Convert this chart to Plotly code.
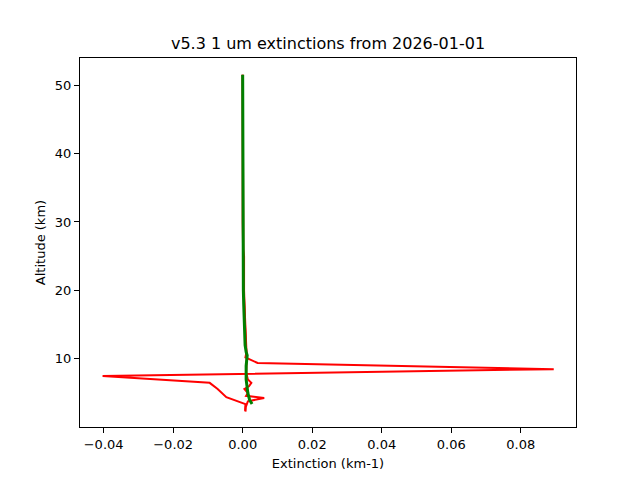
import plotly.graph_objects as go

# Profile A (red) with strong excursion near 8 km
alt_a = [51.5, 45.0, 40.0, 35.0, 30.0, 26.0, 25.0, 22.0, 20.0, 17.0, 15.0, 13.0, 12.0, 11.0, 10.2, 9.4, 8.5, 7.5, 6.5, 5.6, 4.4, 3.4, 2.4]
ext_a = [0.0, 0.0, 0.0, 0.0, 0.0, 0.0002, 0.0004, 0.0003, 0.0004, 0.0006, 0.0007, 0.0009, 0.0010, 0.0011, 0.0008, 0.0043, 0.0895, -0.0403, -0.0095, -0.0072, -0.0047, 0.0008, 0.0007]

# Profile B (red) with small wiggles in lower troposphere
alt_b = [51.5, 40.0, 30.0, 20.0, 15.0, 12.0, 10.0, 8.0, 7.0, 6.5, 6.0, 5.6, 5.0, 4.6, 4.3, 3.8, 3.0, 2.3]
ext_b = [0.0, 0.0, 0.0, 0.0003, 0.0006, 0.0009, 0.0012, 0.0010, 0.0015, 0.0025, 0.0018, 0.0005, 0.0015, 0.0010, 0.0062, 0.0015, 0.0009, 0.0008]

# Profile C (green)
alt_c = [51.5, 45.0, 40.0, 35.0, 30.0, 25.0, 20.0, 18.0, 15.0, 12.0, 11.0, 10.5, 9.0, 7.0, 5.0, 4.0, 3.4]
ext_c = [0.0, 0.0, 0.0, 0.0, 0.0, 0.0001, 0.0002, 0.0003, 0.0005, 0.0007, 0.0010, 0.0013, 0.0010, 0.0010, 0.0015, 0.0020, 0.0027]

fig = go.Figure()
fig.add_trace(go.Scatter(x=ext_a, y=alt_a, mode="lines", line=dict(color="#ff0000", width=2), showlegend=False))
fig.add_trace(go.Scatter(x=ext_b, y=alt_b, mode="lines", line=dict(color="#ff0000", width=2), showlegend=False))
fig.add_trace(go.Scatter(x=ext_c, y=alt_c, mode="lines", line=dict(color="#008000", width=3), showlegend=False))

axis_common = dict(
    showgrid=False, zeroline=False, showline=True, linecolor="black", linewidth=1,
    mirror=True, ticks="outside", ticklen=5, tickwidth=1, tickcolor="black",
    tickfont=dict(family="DejaVu Sans", size=13, color="black"),
)

fig.update_layout(
    width=640, height=480,
    paper_bgcolor="white", plot_bgcolor="white",
    margin=dict(l=72, r=72, t=50, b=61),
    title=dict(text="v5.3 1 um extinctions from 2026-01-01", x=0.5, xanchor="center",
               y=1 - 35 / 480, yanchor="middle",
               font=dict(family="DejaVu Sans", size=16, color="black")),
    font=dict(family="DejaVu Sans", color="black"),
    xaxis=dict(axis_common, range=[-0.0468, 0.0959], dtick=0.02, tick0=0, tickformat=".2f",
               title=dict(text="Extinction (km-1)", font=dict(family="DejaVu Sans", size=13), standoff=8)),
    yaxis=dict(axis_common, range=[0.05, 53.95], dtick=10, tick0=0,
               title=dict(text="Altitude (km)", font=dict(family="DejaVu Sans", size=13), standoff=6)),
)

fig.write_html("out.html")
